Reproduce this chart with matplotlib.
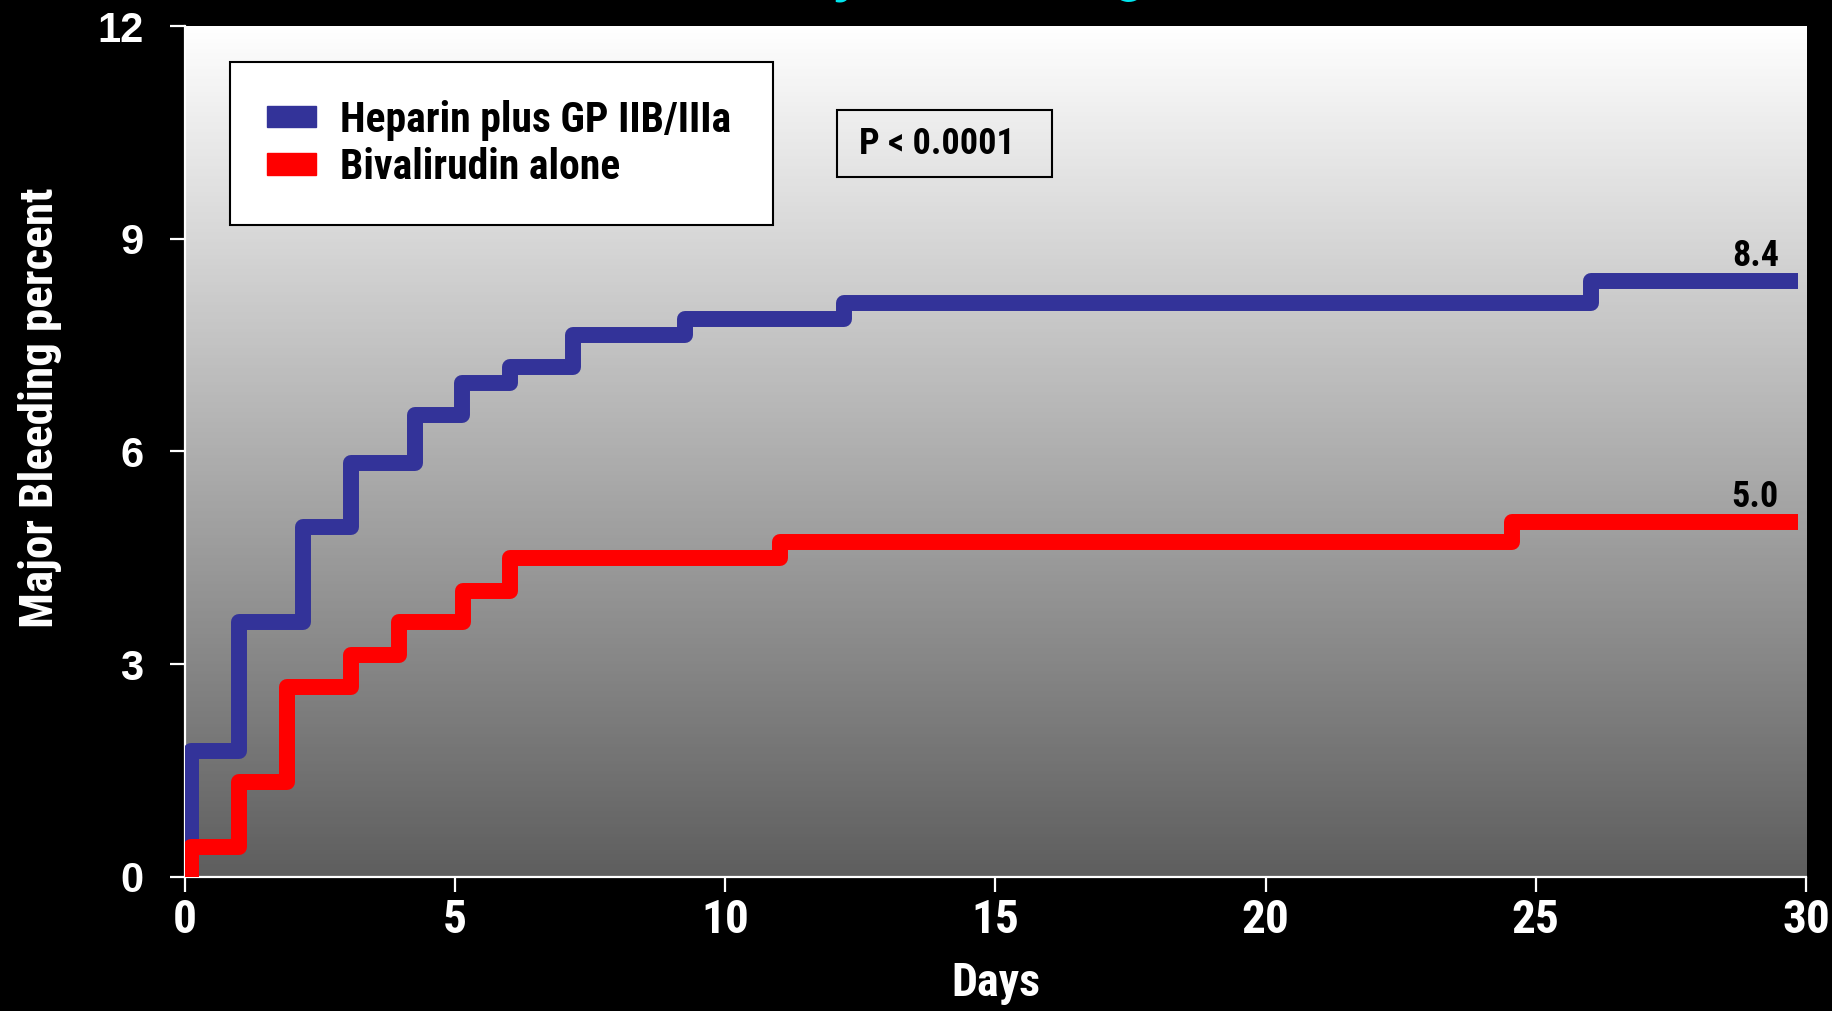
import numpy as np
import matplotlib
matplotlib.use("Agg")
import matplotlib.pyplot as plt
import matplotlib.patches as mpatches
from matplotlib.colors import LinearSegmentedColormap

# Kaplan-Meier style cumulative major bleeding (%) by day
hep_days = [0.12, 1.01, 2.19, 3.07, 4.25, 5.13, 6.02, 7.19, 9.26, 12.2, 26.03]
hep_pct = [1.78, 3.59, 4.94, 5.84, 6.52, 6.97, 7.19, 7.64, 7.87, 8.10, 8.4]

biv_days = [0.12, 1.01, 1.89, 3.07, 3.96, 5.14, 6.01, 11.01, 24.56]
biv_pct = [0.42, 1.33, 2.68, 3.13, 3.59, 4.03, 4.49, 4.72, 5.0]

end_day = 29.85
x_ticks = [0, 5, 10, 15, 20, 25, 30]
y_ticks = [0, 3, 6, 9, 12]
labels = ["Heparin plus GP IIB/IIIa", "Bivalirudin alone"]
p_text = "P < 0.0001"

NARROW = ["Roboto Condensed", "DejaVu Sans"]
REG = ["Liberation Sans", "DejaVu Sans"]
BLUE = "#333399"
RED = "#ff0000"


def curve(days, pct):
    x = [days[0]] + list(days) + [end_day]
    y = [0] + list(pct) + [pct[-1]]
    return x, y


fig = plt.figure(figsize=(18.32, 10.11), dpi=100, facecolor="black")
ax = fig.add_axes([0.1009, 0.1328, 0.8849, 0.8414])
ax.set_facecolor("black")

# grey gradient behind the curves
grad = np.linspace(0, 1, 256).reshape(-1, 1)
cmap = LinearSegmentedColormap.from_list("bg", ["#5e5e5e", "#ffffff"])
ax.imshow(grad, cmap=cmap, extent=[0, 1, 0, 1], transform=ax.transAxes,
          aspect="auto", origin="lower", zorder=0)

for days, pct, col in [(hep_days, hep_pct, BLUE), (biv_days, biv_pct, RED)]:
    x, y = curve(days, pct)
    ax.step(x, y, where="post", color=col, lw=11.5,
            solid_joinstyle="round", solid_capstyle="butt", zorder=3)
    ax.annotate(f"{pct[-1]:.1f}", xy=(29.5, pct[-1]), xytext=(0, 11),
                textcoords="offset points", ha="right", va="baseline",
                fontsize=26, fontweight="bold", family=NARROW, color="black")

ax.set_xlim(0, 30)
ax.set_ylim(0, 12)
ax.set_xticks(x_ticks)
ax.set_yticks(y_ticks)

for s in ["top", "right"]:
    ax.spines[s].set_visible(False)
for s in ["left", "bottom"]:
    ax.spines[s].set_color("white")
    ax.spines[s].set_linewidth(1.6)

ax.tick_params(axis="both", colors="white", length=11, width=1.6, direction="out")
ax.tick_params(axis="y", pad=19)
ax.tick_params(axis="x", pad=4)
for t in ax.get_xticklabels():
    t.set_fontfamily(NARROW)
    t.set_fontsize(34)
    t.set_fontweight("bold")
for t in ax.get_yticklabels():
    t.set_fontfamily(REG)
    t.set_fontsize(30)
    t.set_fontweight("bold")

ax.set_xlabel("Days", color="white", fontsize=33, fontweight="bold",
              family=NARROW, labelpad=14)
fig.text(40 / 1832, 1 - 408 / 1011, "Major Bleeding percent", rotation=90,
         ha="center", va="center", color="white", fontsize=34,
         fontweight="bold", family=NARROW)

# title, mostly running off the top edge
fig.text(952 / 1832, 1 + 11 / 1011, "Major Bleeding", ha="center", va="baseline",
         color="#00e5ee", fontsize=46, fontweight="bold", family=NARROW)

handles = [mpatches.Patch(color=BLUE), mpatches.Patch(color=RED)]
leg = ax.legend(handles, labels, loc="upper left",
                bbox_to_anchor=(0.0276, 0.9577, 0.335, 0.0), mode="expand",
                borderaxespad=0, frameon=True, fancybox=False, framealpha=1,
                facecolor="white", edgecolor="black", borderpad=0.9,
                labelspacing=0.15, handlelength=1.18, handleheight=0.41,
                handletextpad=0.58,
                prop={"family": NARROW, "size": 30, "weight": "bold"})
leg.get_frame().set_linewidth(1.5)
leg.set_zorder(5)

ax.add_patch(mpatches.Rectangle((0.4023, 0.8225), 0.1326, 0.0788,
                                transform=ax.transAxes, facecolor="none",
                                edgecolor="black", lw=1.5, zorder=5))
ax.text(0.4158, 0.8619, p_text, transform=ax.transAxes, ha="left", va="center",
        fontsize=26, fontweight="bold", family=NARROW, color="black", zorder=6)

fig.savefig("out.png", dpi=100, facecolor="black")
